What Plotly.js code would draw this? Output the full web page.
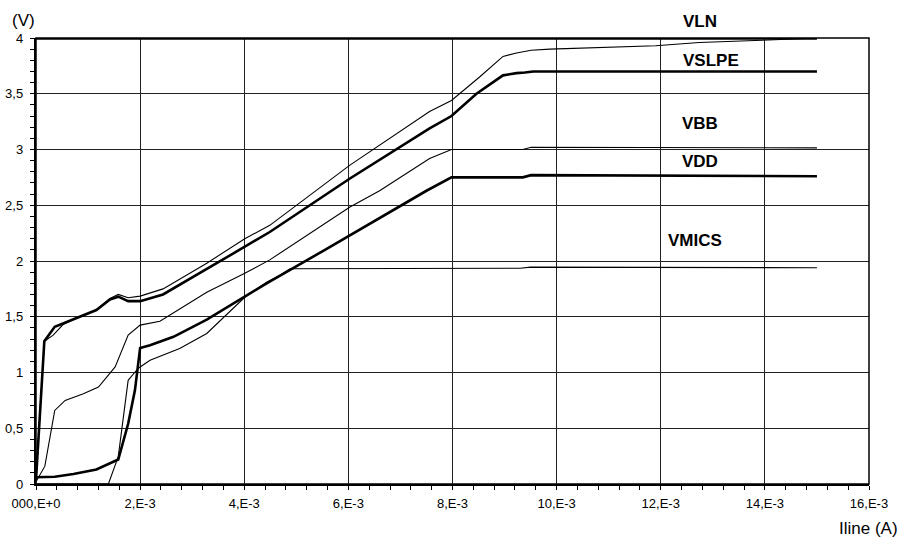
<!DOCTYPE html>
<html>
<head>
<meta charset="utf-8">
<script src="https://cdn.plot.ly/plotly-3.0.1.min.js"></script>
<style>html,body{margin:0;padding:0;background:#fff;}#chart{width:904px;height:541px;}</style>
</head>
<body>
<div id="chart"></div>
<script>
// Iline (A) values and voltages (V)
const vlnX   = [0, 15e-3];
const vlnY   = [3.995, 3.995];

const topX = [0, 0.16e-3, 0.33e-3, 0.52e-3, 0.84e-3, 1.16e-3, 1.42e-3, 1.58e-3, 1.77e-3, 2.0e-3, 2.44e-3, 3.28e-3, 4.01e-3, 4.49e-3, 6.03e-3, 6.41e-3, 7.56e-3, 7.98e-3, 8.52e-3, 8.97e-3, 9.23e-3, 9.51e-3, 9.87e-3, 11.9e-3, 12.74e-3, 13.95e-3, 15.0e-3];
const topY = [0.04, 1.28, 1.335, 1.43, 1.50, 1.56, 1.665, 1.70, 1.67, 1.685, 1.75, 1.98, 2.20, 2.32, 2.86, 2.98, 3.34, 3.44, 3.65, 3.835, 3.865, 3.89, 3.90, 3.93, 3.96, 3.98, 4.0];

const vslpeX = [0, 0.16e-3, 0.36e-3, 0.56e-3, 0.84e-3, 1.16e-3, 1.42e-3, 1.58e-3, 1.77e-3, 2.0e-3, 2.44e-3, 3.47e-3, 4.01e-3, 4.49e-3, 6.03e-3, 6.41e-3, 7.56e-3, 7.98e-3, 8.46e-3, 8.97e-3, 9.23e-3, 9.39e-3, 9.55e-3, 15.0e-3];
const vslpeY = [0.04, 1.28, 1.41, 1.445, 1.50, 1.56, 1.655, 1.68, 1.64, 1.64, 1.70, 1.98, 2.13, 2.26, 2.74, 2.85, 3.19, 3.30, 3.50, 3.665, 3.685, 3.69, 3.70, 3.70];

const vbbX = [0, 0.17e-3, 0.36e-3, 0.56e-3, 0.91e-3, 1.2e-3, 1.52e-3, 1.77e-3, 2.0e-3, 2.38e-3, 3.28e-3, 4.01e-3, 4.49e-3, 6.03e-3, 6.6e-3, 7.56e-3, 7.98e-3, 9.35e-3, 9.51e-3, 15.0e-3];
const vbbY = [0.02, 0.16, 0.66, 0.75, 0.81, 0.87, 1.05, 1.335, 1.425, 1.46, 1.72, 1.89, 2.01, 2.485, 2.63, 2.92, 3.0, 3.0, 3.02, 3.015];

const vddX = [0, 0.36e-3, 0.72e-3, 1.16e-3, 1.58e-3, 1.77e-3, 1.9e-3, 2.0e-3, 2.19e-3, 2.64e-3, 3.28e-3, 4.01e-3, 4.43e-3, 5.55e-3, 6.03e-3, 7.5e-3, 7.98e-3, 9.35e-3, 9.51e-3, 15.0e-3];
const vddY = [0.06, 0.065, 0.09, 0.13, 0.22, 0.54, 0.84, 1.22, 1.245, 1.32, 1.475, 1.68, 1.80, 2.10, 2.23, 2.63, 2.75, 2.75, 2.77, 2.76];

const vmicsX = [0, 1.39e-3, 1.58e-3, 1.77e-3, 1.93e-3, 2.0e-3, 2.19e-3, 2.76e-3, 3.28e-3, 4.01e-3, 4.43e-3, 4.68e-3, 4.88e-3, 9.3e-3, 9.5e-3, 15.0e-3];
const vmicsY = [0, 0, 0.245, 0.93, 1.02, 1.05, 1.11, 1.215, 1.35, 1.675, 1.81, 1.87, 1.93, 1.935, 1.945, 1.94];

const xTickVals = [0, 2e-3, 4e-3, 6e-3, 8e-3, 10e-3, 12e-3, 14e-3, 16e-3];
const xTickText = ["000,E+0", "2,E-3", "4,E-3", "6,E-3", "8,E-3", "10,E-3", "12,E-3", "14,E-3", "16,E-3"];
const yTickVals = [0, 0.5, 1, 1.5, 2, 2.5, 3, 3.5, 4];
const yTickText = ["0", "0,5", "1", "1,5", "2", "2,5", "3", "3,5", "4"];

// curve labels (paper coordinates, fraction of plot area)
const labelNames = ["VLN", "VSLPE", "VBB", "VDD", "VMICS"];
const labelX = [0.797, 0.81, 0.797, 0.797, 0.791];
const labelY = [1.037, 0.95, 0.809, 0.722, 0.547];

const FONT = "Liberation Sans, Arial, sans-serif";
const thick = {color: "#000", width: 2.6};
const thin = {color: "#000", width: 1.1};

const traces = [
  {x: vlnX, y: vlnY, name: "VLN", mode: "lines", line: thick},
  {x: topX, y: topY, name: "V", mode: "lines", line: thin},
  {x: vslpeX, y: vslpeY, name: "VSLPE", mode: "lines", line: thick},
  {x: vbbX, y: vbbY, name: "VBB", mode: "lines", line: thin},
  {x: vddX, y: vddY, name: "VDD", mode: "lines", line: thick},
  {x: vmicsX, y: vmicsY, name: "VMICS", mode: "lines", line: thin}
];

const annotations = labelNames.map((t, i) => ({
  text: t, x: labelX[i], y: labelY[i], xref: "paper", yref: "paper",
  showarrow: false, xanchor: "center", yanchor: "middle",
  font: {family: FONT, size: 17, color: "#000", weight: "bold"}
}));
annotations.push({text: "(V)", xref: "paper", yref: "paper", x: -0.0156, y: 1.039,
  xanchor: "center", yanchor: "middle", showarrow: false,
  font: {family: FONT, size: 17, color: "#000"}});
annotations.push({text: "Iline (A)", xref: "paper", yref: "paper", x: 1.037, y: -0.10,
  xanchor: "right", yanchor: "middle", showarrow: false,
  font: {family: FONT, size: 17, color: "#000"}});

const layout = {
  width: 904, height: 541,
  margin: {l: 36, r: 35, t: 38, b: 57, pad: 0},
  paper_bgcolor: "#fff", plot_bgcolor: "#fff",
  showlegend: false,
  font: {family: FONT, color: "#000"},
  xaxis: {
    range: [0, 16e-3], tickmode: "array", tickvals: xTickVals, ticktext: xTickText,
    tickfont: {family: FONT, size: 13, color: "#000"},
    showgrid: true, gridcolor: "#222", gridwidth: 1,
    showline: true, linecolor: "#000", linewidth: 2.2, zeroline: false,
    ticks: "outside", ticklen: 4, tickcolor: "#000", tickwidth: 1,
    ticklabelstandoff: 2,
    minor: {dtick: 0.4e-3, tick0: 0, ticks: "outside", ticklen: 4, tickcolor: "#000", tickwidth: 1, showgrid: false}
  },
  yaxis: {
    range: [0, 4], tickmode: "array", tickvals: yTickVals, ticktext: yTickText,
    tickfont: {family: FONT, size: 13, color: "#000"},
    showgrid: true, gridcolor: "#222", gridwidth: 1,
    showline: true, linecolor: "#000", linewidth: 2.2, zeroline: false,
    ticks: "outside", ticklen: 4, tickcolor: "#000", tickwidth: 1,
    ticklabelstandoff: 4,
    minor: {dtick: 0.1, tick0: 0, ticks: "outside", ticklen: 4, tickcolor: "#000", tickwidth: 1, showgrid: false}
  },
  shapes: [
    {type: "rect", xref: "paper", yref: "paper", x0: 0, x1: 1, y0: 0, y1: 1,
     line: {color: "#000", width: 1.5}, fillcolor: "rgba(0,0,0,0)", layer: "above"}
  ],
  annotations: annotations
};

Plotly.newPlot("chart", traces, layout, {displayModeBar: false, staticPlot: true});
</script>
</body>
</html>
